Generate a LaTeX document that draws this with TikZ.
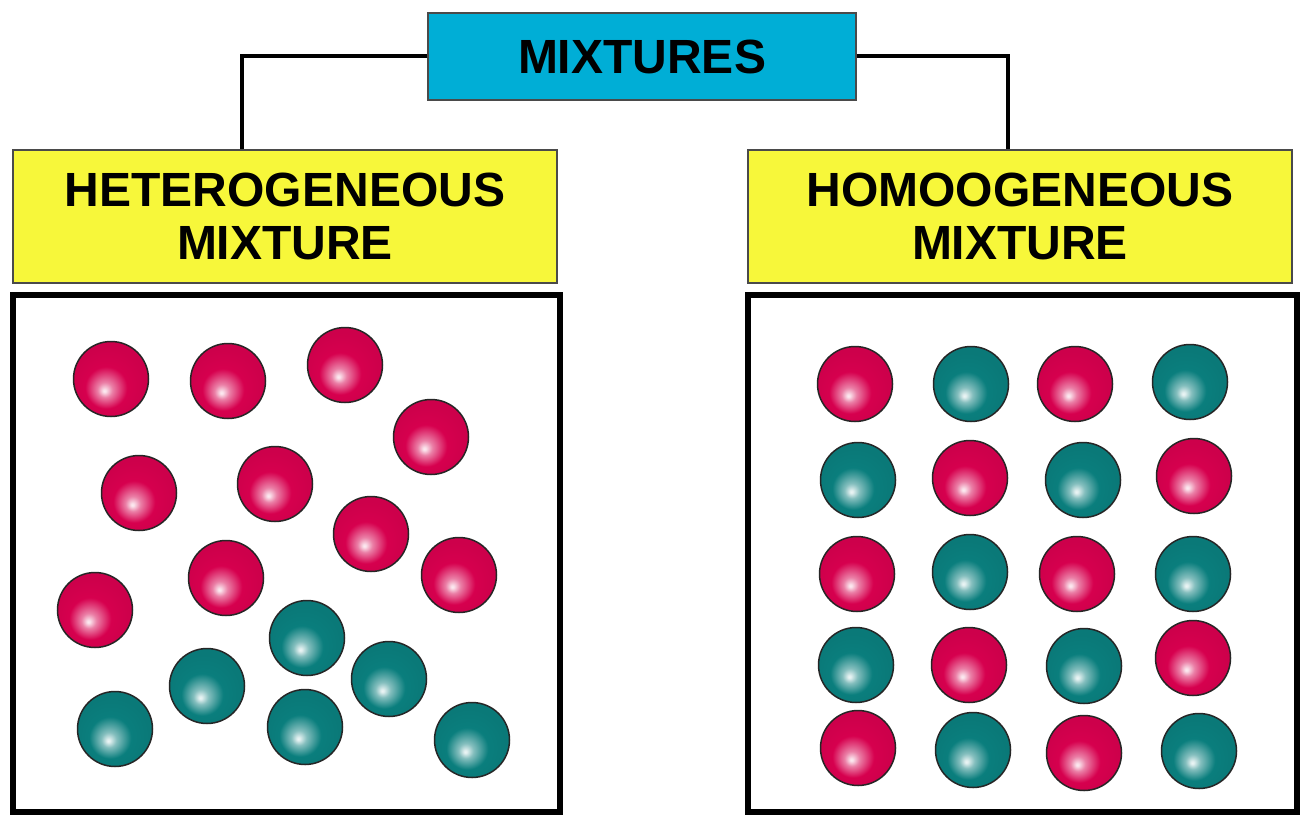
\documentclass[tikz,border=0pt]{standalone}
\usepackage{fontspec}
\setmainfont{Liberation Sans}
\definecolor{rb}{HTML}{D6004E}
\definecolor{tb}{HTML}{0A7E7D}
\definecolor{cy}{HTML}{00AED6}
\definecolor{yl}{HTML}{F7F73A}
\definecolor{edgegray}{HTML}{4A4A4A}
\pgfdeclareradialshading{redsh}{\pgfpoint{-4.5bp}{-8bp}}{color(0bp)=(rb!8!white); color(1bp)=(rb!12!white); color(5bp)=(rb!50!white); color(14bp)=(rb); color(25bp)=(rb!96!black); color(50bp)=(rb!96!black)}
\pgfdeclareradialshading{tealsh}{\pgfpoint{-4.5bp}{-8bp}}{color(0bp)=(tb!8!white); color(1bp)=(tb!12!white); color(5bp)=(tb!50!white); color(14bp)=(tb); color(25bp)=(tb!96!black); color(50bp)=(tb!96!black)}
\begin{document}
\begin{tikzpicture}[x=1pt,y=-1pt,
  lbl/.style={font=\fontsize{48}{53}\selectfont\bfseries, align=center, text=black},
  cybox/.style={lbl, fill=cy, draw=edgegray, line width=1.5pt},
  ylbox/.style={lbl, fill=yl, draw=edgegray, line width=1.5pt, minimum width=544pt, minimum height=133pt},
  frame/.style={draw=black, line width=6pt, fill=white},
  conn/.style={draw=black, line width=4pt},
  ball/.style={circle, draw=black!85, line width=1.5pt, minimum size=75pt, inner sep=0pt, shade},
  rball/.style={ball, shading=redsh},
  tball/.style={ball, shading=tealsh}]
\useasboundingbox (0,0) rectangle (1305,816);
\fill[white] (0,0) rectangle (1305,816);
% title
\node[cybox, minimum width=428pt, minimum height=87pt] (mix) at (642,56.5) {MIXTURES};
% category boxes
\node[ylbox] (het) at (285,216.5) {HETEROGENEOUS\\MIXTURE};
\node[ylbox] (hom) at (1020,216.5) {HOMOOGENEOUS\\MIXTURE};
% connectors
\draw[conn] (mix.west) -| ([xshift=-43pt]het.north);
\draw[conn] (mix.east) -| ([xshift=-12pt]hom.north);
% frames
\node[frame, minimum width=547pt, minimum height=517pt] (hetbox) at (286.5,553.5) {};
\node[frame, minimum width=549pt, minimum height=517pt] (hombox) at (1022.5,553.5) {};
% heterogeneous particles
\foreach \x/\y [count=\i] in {111/379, 228/381, 345/365, 431/437, 139/493, 275/484, 371/534, 459/575, 226/578, 95/610}
  \node[rball] (hr\i) at (\x,\y) {};
\foreach \x/\y [count=\i] in {307/638, 207/686, 389/679, 115/729, 305/727, 472/740}
  \node[tball] (ht\i) at (\x,\y) {};
% homogeneous particles
\foreach \x/\y [count=\i] in {855/384, 1075/384, 970/478, 1194/476, 857/574, 1077/574, 969/665, 1193/658, 858/748, 1084/753}
  \node[rball] (mr\i) at (\x,\y) {};
\foreach \x/\y [count=\i] in {971/384, 1190/382, 858/480, 1083/480, 970/572, 1193/574, 856/665, 1084/666, 973/750, 1199/751}
  \node[tball] (mt\i) at (\x,\y) {};
\end{tikzpicture}
\end{document}
